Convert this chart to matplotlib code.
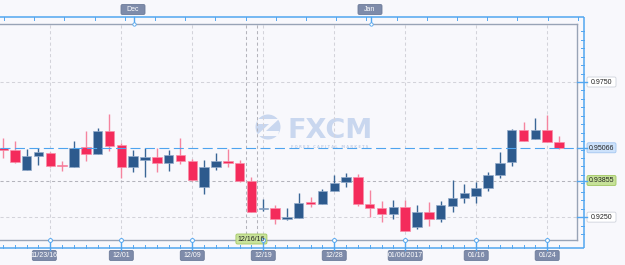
import matplotlib
matplotlib.use("Agg")
import matplotlib.pyplot as plt
import numpy as np
from matplotlib.patches import FancyBboxPatch, Circle, Polygon

# ---------------- data ----------------
dates = ["11/17", "11/18", "11/21", "11/22", "11/23", "11/24", "11/25", "11/28", "11/29", "11/30",
         "12/01", "12/02", "12/05", "12/06", "12/07", "12/08", "12/09", "12/12", "12/13", "12/14",
         "12/15", "12/16", "12/19", "12/20", "12/21", "12/22", "12/23", "12/27", "12/28", "12/29",
         "12/30", "01/03", "01/04", "01/05", "01/06", "01/09", "01/10", "01/11", "01/12", "01/13",
         "01/16", "01/17", "01/18", "01/19", "01/20", "01/23", "01/24", "01/25"]
opens = [0.9506, 0.9498, 0.9424, 0.9477, 0.9488, 0.9442, 0.9437, 0.9508, 0.9483, 0.9569,
         0.9517, 0.9437, 0.9461, 0.9471, 0.9449, 0.9480, 0.9459, 0.9363, 0.9434, 0.9458,
         0.9451, 0.9384, 0.9280, 0.9285, 0.9242, 0.9248, 0.9305, 0.9297, 0.9347, 0.9379,
         0.9400, 0.9299, 0.9283, 0.9262, 0.9286, 0.9215, 0.9268, 0.9244, 0.9292, 0.9322,
         0.9329, 0.9357, 0.9406, 0.9453, 0.9572, 0.9539, 0.9572, 0.9529]
highs = [0.9544, 0.9532, 0.9501, 0.9505, 0.9492, 0.9458, 0.9532, 0.9569, 0.9581, 0.9630,
         0.9523, 0.9498, 0.9505, 0.9507, 0.9498, 0.9544, 0.9464, 0.9461, 0.9486, 0.9501,
         0.9461, 0.9400, 0.9316, 0.9295, 0.9283, 0.9340, 0.9323, 0.9353, 0.9406, 0.9412,
         0.9408, 0.9350, 0.9311, 0.9314, 0.9314, 0.9295, 0.9305, 0.9310, 0.9387, 0.9371,
         0.9379, 0.9418, 0.9492, 0.9575, 0.9601, 0.9616, 0.9628, 0.9550]
lows = [0.9468, 0.9449, 0.9423, 0.9443, 0.9437, 0.9422, 0.9437, 0.9459, 0.9483, 0.9495,
        0.9396, 0.9418, 0.9400, 0.9418, 0.9422, 0.9447, 0.9385, 0.9334, 0.9424, 0.9437,
        0.9381, 0.9269, 0.9274, 0.9225, 0.9241, 0.9246, 0.9286, 0.9297, 0.9346, 0.9363,
        0.9292, 0.9252, 0.9231, 0.9243, 0.9199, 0.9206, 0.9217, 0.9231, 0.9270, 0.9301,
        0.9301, 0.9348, 0.9393, 0.9440, 0.9532, 0.9538, 0.9528, 0.9501]
closes = [0.9498, 0.9455, 0.9477, 0.9490, 0.9440, 0.9438, 0.9507, 0.9483, 0.9569, 0.9514,
          0.9437, 0.9477, 0.9471, 0.9449, 0.9480, 0.9459, 0.9387, 0.9434, 0.9458, 0.9449,
          0.9384, 0.9270, 0.9285, 0.9242, 0.9249, 0.9303, 0.9299, 0.9347, 0.9375, 0.9397,
          0.9299, 0.9283, 0.9262, 0.9286, 0.9200, 0.9268, 0.9244, 0.9295, 0.9322, 0.9338,
          0.9357, 0.9406, 0.9452, 0.9572, 0.9533, 0.9572, 0.9529, 0.9505]

tick_dates = ["11/23", "12/01", "12/09", "12/19", "12/28", "01/06", "01/16", "01/24"]
tick_labels = ["11/23/16", "12/01", "12/09", "12/19", "12/28", "01/06/2017", "01/16", "01/24"]
grid_prices = [0.9750, 0.9250]
grid_labels = ["0.9750", "0.9250"]
current_price = 0.95066
current_label = "0.95066"
cursor_price = 0.93855
cursor_price_label = "0.93855"
cursor_date = "12/16"
cursor_date_label = "12/16/16"
month_labels = ["Dec", "Jan"]

# ---------------- styling ----------------
W, H = 625, 265
BG = "#f8f8fc"
RED, RED_EDGE, RED_WICK = "#f42b5b", "#f98fa9", "#f5849f"
BLUE, BLUE_EDGE, BLUE_WICK = "#2d5a8d", "#93abca", "#3a6696"
FRAME = "#52a6f0"
SPINE = "#98a3b6"
GRID = "#d3d3da"
TAGBG = "#7e8baa"
FONT = "Liberation Sans"

fig = plt.figure(figsize=(W / 100, H / 100), dpi=100, facecolor=BG)

# watermark layer (behind)
wm = fig.add_axes([0, 0, 1, 1], zorder=0)
wm.set_xlim(0, W); wm.set_ylim(H, 0); wm.axis("off")
wm.add_patch(Circle((268, 127), 12.5, color="#c9d7ef", lw=0))
wm.add_patch(Polygon([(258, 119), (279, 119), (266, 131), (279, 131), (278, 136), (256, 136),
                      (269, 124), (257, 124)], closed=True, color=BG, lw=0))
wm.text(287, 137.5, "FXCM", fontsize=19.5, fontweight="bold", color="#c9d7ef",
        family="DejaVu Sans", va="baseline", ha="left")
wm.text(330, 146.5, "F O R E X   C A P I T A L   M A R K E T S", fontsize=2.6, fontweight="bold",
        color="#c3d0e8", family="DejaVu Sans", va="center", ha="center")

# main chart axes
n = len(dates)
x = np.arange(n)
o = np.array(opens); h = np.array(highs); l = np.array(lows); c = np.array(closes)
step = 11.83
ax = fig.add_axes([0, 25 / H, 577 / W, 216 / H], zorder=1)
ax.patch.set_visible(False)
ax.set_xlim(-3 / step, (577 - 3) / step)
ax.set_ylim(0.91654, 0.99646)
ax.set_xticks([]); ax.set_yticks([])
ax.spines["left"].set_visible(False)
for s in ["top", "bottom", "right"]:
    ax.spines[s].set_color(SPINE); ax.spines[s].set_linewidth(1.0)

tick_idx = [dates.index(d) for d in tick_dates]
for ti in tick_idx:
    ax.axvline(ti, color=GRID, lw=0.75, ls=(0, (3, 2.5)), zorder=0.5)
for gp in grid_prices:
    ax.axhline(gp, color=GRID, lw=0.75, ls=(0, (3, 2.5)), zorder=0.5)

# crosshair
ci = dates.index(cursor_date)
for dx in (-0.5, 0.5):
    ax.axvline(ci + dx, color="#b4b4bc", lw=0.75, ls=(0, (3, 2.5)), zorder=0.6)
ax.axhline(cursor_price, color="#b4b4bc", lw=0.75, ls=(0, (3, 2.5)), zorder=0.6)

# current price line
ax.axhline(current_price, color="#4ea4ef", lw=0.8, ls=(0, (9, 4)), zorder=3)

up = c >= o
bot = np.minimum(o, c)
ht = np.maximum(np.abs(c - o), 0.0004)
ax.vlines(x[up], l[up], h[up], color=BLUE_WICK, lw=1.0, zorder=1)
ax.vlines(x[~up], l[~up], h[~up], color=RED_WICK, lw=1.0, zorder=1)
ax.bar(x[up], ht[up], bottom=bot[up], width=0.8, color=BLUE, edgecolor=BLUE_EDGE, lw=0.5, zorder=2)
ax.bar(x[~up], ht[~up], bottom=bot[~up], width=0.8, color=RED, edgecolor=RED_EDGE, lw=0.5, zorder=2)

# overlay for frame & labels (pixel coordinates, y downwards)
ov = fig.add_axes([0, 0, 1, 1], zorder=4)
ov.set_xlim(0, W); ov.set_ylim(H, 0); ov.axis("off")


def to_px(xd, yd):
    disp = ax.transData.transform((xd, yd))
    return ov.transData.inverted().transform(disp)


# blue frame
ov.plot([0, 584], [17, 17], color=FRAME, lw=1.1, solid_capstyle="butt")
ov.plot([584, 584], [17, 247.5], color=FRAME, lw=1.1, solid_capstyle="butt")
ov.plot([0, 584], [247.5, 247.5], color=FRAME, lw=1.1, solid_capstyle="butt")

# bottom minor ticks (one per candle)
for i in x:
    px = to_px(i, 0.95)[0]
    ov.plot([px, px], [244.5, 247.5], color=FRAME, lw=0.7)

# top minor ticks
for px in np.arange(4, 584, 30.2):
    ov.plot([px, px], [17, 20], color=FRAME, lw=0.7)

# right minor ticks
for p in np.arange(0.9250 - 0.003125 * 3, 0.9970, 0.003125):
    py = to_px(0, p)[1]
    if 24 < py < 240:
        ov.plot([580.5, 584], [py, py], color=FRAME, lw=0.7)


def tag(xc, yc, text, w, hgt, fc, ec, tc, fs=5.0):
    ov.add_patch(FancyBboxPatch((xc - w / 2, yc - hgt / 2), w, hgt,
                                boxstyle="round,pad=0,rounding_size=1.5",
                                fc=fc, ec=ec, lw=0.6))
    ov.text(xc, yc + 0.3, text, fontsize=fs, color=tc, family=FONT, ha="center", va="center")


# date tags
for k, (ti, lab) in enumerate(zip(tick_idx, tick_labels)):
    px = to_px(ti, 0.95)[0]
    ov.plot([px, px], [240, 250], color=FRAME, lw=1.0)
    ov.plot([px], [240.3], marker="o", ms=2.8, mfc="white", mec=FRAME, mew=0.7)
    wdt = 34 if len(lab) > 8 else 24
    shift = -6 if k == 0 else 0
    tag(px + shift, 255.5, lab, wdt, 10, TAGBG, "#6d7b99", "white")

# cursor date tag
cpx = to_px(ci, 0.95)[0]
tag(cpx, 239, cursor_date_label, 31, 10, "#c9e39b", "#a3c863", "#222222")

# month tags on top
for mx, ml in zip([134, 371], month_labels):
    ov.plot([mx, mx], [17, 24], color=FRAME, lw=1.0)
    ov.plot([mx], [24], marker="o", ms=2.4, mfc="white", mec=FRAME, mew=0.6)
    tag(mx - 1, 9.5, ml, 24, 10, TAGBG, "#6d7b99", "white")

# price tags on the right
ptags = [(grid_prices[0], grid_labels[0], "white", "#cfd3dc"),
         (current_price, current_label, "#cde2fb", "#a3c6f0"),
         (cursor_price, cursor_price_label, "#c6e198", "#a0c660"),
         (grid_prices[1], grid_labels[1], "white", "#cfd3dc")]
for p, lab, fc, ec in ptags:
    py = to_px(0, p)[1]
    ov.plot([577, 587], [py, py], color=FRAME, lw=1.0)
    tag(601.5, py, lab, 29, 10, fc, ec, "#222222")

fig.savefig("out.png", dpi=100, facecolor=BG)
